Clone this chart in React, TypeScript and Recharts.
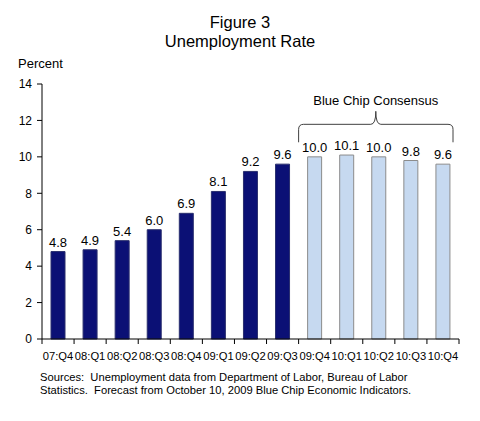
import React from 'react'
import {
  BarChart,
  Bar,
  XAxis,
  YAxis,
  Cell,
  LabelList,
  ReferenceArea,
} from 'recharts'

// Quarters shown on the x axis
const QUARTERS = [
  '07:Q4', '08:Q1', '08:Q2', '08:Q3', '08:Q4', '09:Q1', '09:Q2',
  '09:Q3', '09:Q4', '10:Q1', '10:Q2', '10:Q3', '10:Q4',
]

// Unemployment rate, percent
const RATES = [4.8, 4.9, 5.4, 6.0, 6.9, 8.1, 9.2, 9.6, 10.0, 10.1, 10.0, 9.8, 9.6]

// true = Blue Chip forecast, false = actual data
const FORECAST = [false, false, false, false, false, false, false, false, true, true, true, true, true]

const Y_TICKS = [0, 2, 4, 6, 8, 10, 12, 14]

const FONT = '"Liberation Sans", Arial, sans-serif'
const ACTUAL_FILL = '#0b1075'
const FORECAST_FILL = '#c6d9f0'

const chartData = QUARTERS.map((q, i) => ({
  quarter: q,
  rate: RATES[i],
  forecast: FORECAST[i],
}))

// x tick: label plus a tick mark on the left edge of each category
const QuarterTick = (props: any) => {
  const { x, y, payload, index, width, visibleTicksCount } = props
  const band = width / visibleTicksCount
  const axisY = y - 11
  const last = index === visibleTicksCount - 1
  return (
    <g>
      <line x1={x - band / 2} x2={x - band / 2} y1={axisY} y2={axisY + 5} stroke="#000" />
      {last && (
        <line x1={x + band / 2} x2={x + band / 2} y1={axisY} y2={axisY + 5} stroke="#000" />
      )}
      <text x={x} y={y} dy={10} textAnchor="middle" fontSize={11.2} fill="#000" fontFamily={FONT}>
        {payload.value}
      </text>
    </g>
  )
}

// curly brace over the forecast bars
const Brace = (props: any) => {
  const { x, y, width, height } = props
  const x0 = x
  const x1 = x + width - 6
  const xc = (x0 + x1) / 2
  const yb = y + height
  const yh = y + 13
  const yt = y
  const d = [
    `M ${x0} ${yb}`,
    `L ${x0} ${yh + 5}`,
    `Q ${x0} ${yh} ${x0 + 5} ${yh}`,
    `L ${xc - 5} ${yh}`,
    `Q ${xc} ${yh} ${xc} ${yt}`,
    `Q ${xc} ${yh} ${xc + 5} ${yh}`,
    `L ${x1 - 5} ${yh}`,
    `Q ${x1} ${yh} ${x1} ${yh + 5}`,
    `L ${x1} ${yb}`,
  ].join(' ')
  return (
    <g>
      <path d={d} fill="none" stroke="#404040" strokeWidth={1} />
      <text x={xc} y={yt - 6} textAnchor="middle" fontSize={13} fill="#000" fontFamily={FONT}>
        Blue Chip Consensus
      </text>
    </g>
  )
}

export default function App() {
  return (
    <div
      style={{
        position: 'absolute',
        left: 0,
        top: 0,
        width: 480,
        height: 421,
        background: '#fff',
        fontFamily: FONT,
      }}
    >
      <div style={{ position: 'absolute', left: 0, top: 13, width: 480, textAlign: 'center', fontSize: 16.5, lineHeight: '19px', color: '#000' }}>
        <div>Figure 3</div>
        <div>Unemployment Rate</div>
      </div>
      <div style={{ position: 'absolute', left: 18, top: 56, fontSize: 13, color: '#000' }}>Percent</div>

      <BarChart
        width={480}
        height={421}
        data={chartData}
        margin={{ top: 84, right: 21, bottom: 52, left: 10 }}
      >
        <XAxis
          dataKey="quarter"
          height={30}
          interval={0}
          tickLine={false}
          tickSize={5}
          tickMargin={6}
          axisLine={{ stroke: '#000' }}
          tick={<QuarterTick />}
        />
        <XAxis
          xAxisId="top"
          dataKey="quarter"
          orientation="top"
          height={0}
          tick={false}
          tickLine={false}
          axisLine={{ stroke: '#8c8c8c' }}
        />
        <YAxis
          domain={[0, 14]}
          ticks={Y_TICKS}
          width={32}
          interval={0}
          tickSize={5}
          tickMargin={5}
          axisLine={{ stroke: '#000' }}
          tickLine={{ stroke: '#000' }}
          tick={{ fontSize: 12, fill: '#000', fontFamily: FONT }}
        />
        <YAxis
          yAxisId="right"
          orientation="right"
          width={0}
          domain={[0, 14]}
          tick={false}
          tickLine={false}
          axisLine={{ stroke: '#8c8c8c' }}
        />
        <ReferenceArea
          x1="09:Q4"
          x2="10:Q4"
          y1={10.8}
          y2={12.5}
          ifOverflow="visible"
          shape={<Brace />}
        />
        <Bar dataKey="rate" barSize={14} isAnimationActive={false}>
          {chartData.map((d, i) => (
            <Cell
              key={`cell-${i}`}
              fill={d.forecast ? FORECAST_FILL : ACTUAL_FILL}
              stroke={d.forecast ? '#8c8c8c' : '#2a2f6e'}
              strokeWidth={1}
            />
          ))}
          <LabelList
            dataKey="rate"
            position="top"
            offset={5}
            formatter={(v: any) => Number(v).toFixed(1)}
            style={{ fontSize: 13, fill: '#000', fontFamily: FONT }}
          />
        </Bar>
      </BarChart>

      <div style={{ position: 'absolute', left: 40, top: 371, fontSize: 11.2, lineHeight: '13px', color: '#000' }}>
        <div>Sources:&nbsp; Unemployment data from Department of Labor, Bureau of Labor</div>
        <div>Statistics.&nbsp; Forecast from October 10, 2009 Blue Chip Economic Indicators.</div>
      </div>
    </div>
  )
}
